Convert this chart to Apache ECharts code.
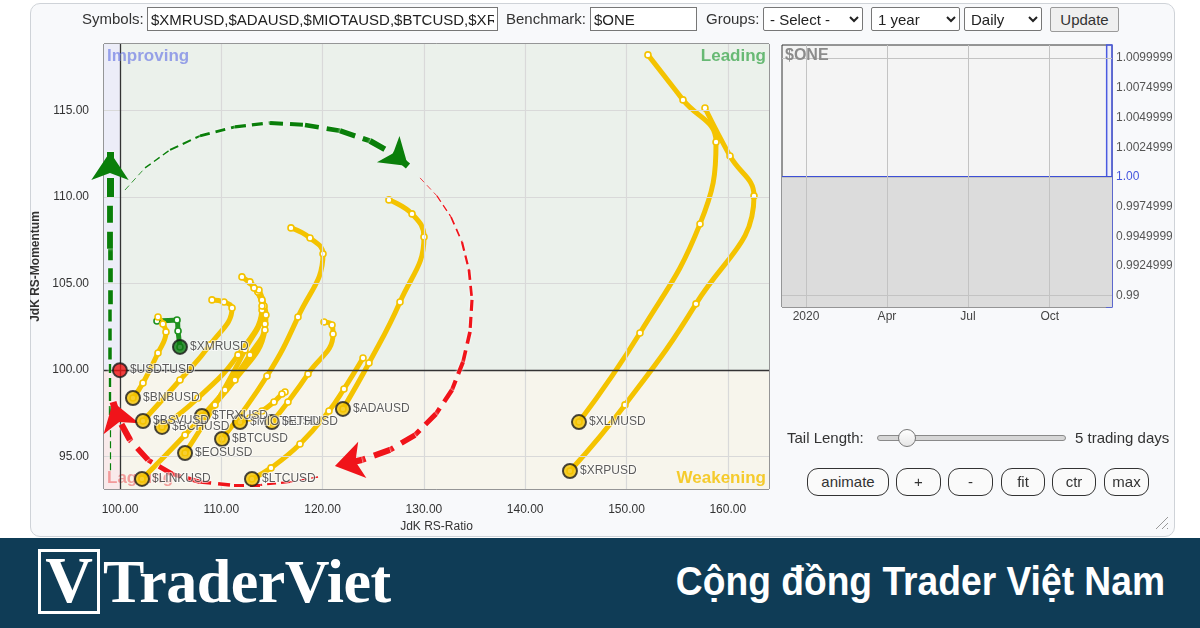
<!DOCTYPE html>
<html><head><meta charset="utf-8">
<script src="https://cdn.jsdelivr.net/npm/echarts@6/dist/echarts.min.js"></script>
<style>
html,body{margin:0;padding:0;width:1200px;height:628px;overflow:hidden;background:#fff;font-family:"Liberation Sans",Arial,sans-serif;color:#333;}
#wrap{position:relative;width:1200px;height:628px;}
#panel{position:absolute;left:30px;top:3px;width:1143px;height:532px;border:1px solid #cfd3d8;border-radius:10px;background:#f8f9fb;}
#chart{position:absolute;left:0;top:0;width:1172px;height:538px;}
.lbl{position:absolute;font-size:15px;line-height:18px;color:#333;white-space:nowrap;}
.inp{position:absolute;border:1px solid #777;background:#fff;font:15px "Liberation Sans",Arial,sans-serif;padding:0 3px;box-sizing:border-box;height:24px;color:#222;}
select.inp{padding:0 2px;border-radius:2px;}
.btn{position:absolute;height:28px;border:1px solid #333;border-radius:11px;background:#fafafa;font:15px "Liberation Sans",Arial,sans-serif;color:#333;text-align:center;line-height:26px;box-sizing:border-box;}
#upd{position:absolute;left:1050px;top:7px;width:69px;height:25px;border:1px solid #9a9a9a;border-radius:2px;background:#efefef;font:15px "Liberation Sans",Arial,sans-serif;color:#333;text-align:center;line-height:23px;box-sizing:border-box;}
#track{position:absolute;left:877px;top:435px;width:189px;height:6px;border:1px solid #8a8a8a;border-radius:4px;background:#d6d6d6;box-sizing:border-box;}
#knob{position:absolute;left:898px;top:429px;width:18px;height:18px;border:1px solid #777;border-radius:50%;background:linear-gradient(#ffffff,#e6e6e6);box-sizing:border-box;}
#grip{position:absolute;left:1154px;top:515px;width:14px;height:14px;background:repeating-linear-gradient(135deg,transparent 0 3px,#999 3px 4px);clip-path:polygon(100% 0,100% 100%,0 100%);}
#banner{position:absolute;left:0;top:538px;width:1200px;height:90px;background:#0f3c56;}
#logobox{position:absolute;left:38px;top:549px;width:62px;height:65px;border:3px solid #fff;box-sizing:border-box;overflow:hidden;}
#logov{position:absolute;left:0;top:-5px;width:56px;text-align:center;font:bold 66px "Liberation Serif",serif;color:#fff;line-height:66px;}
#logot{position:absolute;left:103px;top:546px;font:bold 62px "Liberation Serif",serif;color:#fff;line-height:70px;letter-spacing:-0.5px;}
#slogan{position:absolute;right:35px;top:556px;font:bold 40px "Liberation Sans",Arial,sans-serif;color:#fff;line-height:50px;transform:scaleX(0.93);transform-origin:right center;white-space:nowrap;}
</style></head>
<body><div id="wrap">
<div id="panel"></div>
<div id="chart"></div>
<div class="lbl" style="left:82px;top:10px;">Symbols:</div>
<input class="inp" id="symInput" style="left:147px;top:7px;width:351px;" value="">
<div class="lbl" style="left:506px;top:10px;">Benchmark:</div>
<input class="inp" style="left:590px;top:7px;width:107px;" value="$ONE">
<div class="lbl" style="left:706px;top:10px;">Groups:</div>
<select class="inp" style="left:763px;top:7px;width:100px;"><option>- Select -</option></select>
<select class="inp" style="left:871px;top:7px;width:89px;"><option>1 year</option></select>
<select class="inp" style="left:964px;top:7px;width:78px;"><option>Daily</option></select>
<div id="upd">Update</div>
<div class="lbl" style="left:787px;top:429px;">Tail Length:</div>
<div id="track"></div><div id="knob"></div>
<div class="lbl" style="left:1075px;top:429px;">5 trading days</div>
<div class="btn" style="left:807px;top:468px;width:82px;">animate</div>
<div class="btn" style="left:896px;top:468px;width:45px;">+</div>
<div class="btn" style="left:948px;top:468px;width:45px;">-</div>
<div class="btn" style="left:1001px;top:468px;width:44px;">fit</div>
<div class="btn" style="left:1052px;top:468px;width:44px;">ctr</div>
<div class="btn" style="left:1104px;top:468px;width:45px;">max</div>
<div id="grip"></div>
<div id="banner"></div>
<div id="logobox"><div id="logov">V</div></div>
<div id="logot">TraderViet</div>
<div id="slogan">Cộng đồng Trader Việt Nam</div>
</div>
<script>
// ---------- DATA (JdK RS-Ratio, JdK RS-Momentum), oldest -> latest ----------
const symbols = ['$XMRUSD','$ADAUSD','$MIOTAUSD','$BTCUSD','$XRPUSD','$XLMUSD','$LTCUSD','$ETHUSD','$EOSUSD','$TRXUSD','$BCHUSD','$BSVUSD','$BNBUSD','$LINKUSD','$USDTUSD'];
const XMRUSD   = [[103.65,102.83],[105.63,102.89],[105.73,102.25],[105.92,101.33]];
const ADAUSD   = [[126.55,109.83],[128.83,109.02],[130.01,107.69],[127.64,103.93],[124.58,100.40],[122.01,97.75]];
const MIOTAUSD = [[116.29,98.73],[115.99,98.61],[115.20,98.15],[114.02,97.63],[112.83,97.23],[111.85,96.99]];
const BTCUSD   = [[116.88,108.21],[118.76,107.63],[120.04,106.71],[117.57,103.06],[114.51,99.65],[110.07,96.01]];
const XRPUSD   = [[157.75,115.14],[160.22,112.37],[162.59,110.06],[156.86,103.82],[149.85,97.98],[144.42,94.16]];
const XLMUSD   = [[152.12,118.21],[155.58,115.61],[158.84,113.18],[157.26,108.44],[151.33,102.14],[145.31,96.99]];
const LTCUSD   = [[123.99,100.69],[122.11,98.90],[120.63,97.63],[117.77,95.72],[114.91,94.34],[113.03,93.70]];
const ETHUSD   = [[120.14,102.77],[120.93,102.60],[121.03,102.08],[118.56,99.77],[116.58,98.15],[115.00,96.99]];
const EOSUSD   = [[112.83,105.09],[113.62,104.51],[114.02,103.47],[112.34,101.16],[109.38,97.98],[106.42,95.20]];
const TRXUSD   = [[113.72,104.62],[114.22,103.70],[114.31,102.66],[112.83,100.87],[110.37,98.84],[108.09,97.34]];
const BCHUSD   = [[112.04,105.38],[113.23,104.74],[114.02,103.70],[111.65,100.87],[107.70,98.38],[104.15,96.71]];
const BSVUSD   = [[109.08,104.05],[110.27,103.93],[111.06,103.58],[108.88,101.45],[105.92,99.42],[102.27,97.05]];
const BNBUSD   = [[103.75,103.06],[104.24,102.66],[104.54,102.20],[103.75,100.98],[102.27,99.25],[101.28,98.38]];
const LINKUSD  = [[114.02,104.05],[114.41,103.18],[114.31,102.31],[111.35,99.42],[106.42,96.24],[102.17,93.70]];
const USDTUSD  = [[99.99,99.99]];
const tailData = [XMRUSD,ADAUSD,MIOTAUSD,BTCUSD,XRPUSD,XLMUSD,LTCUSD,ETHUSD,EOSUSD,TRXUSD,BCHUSD,BSVUSD,BNBUSD,LINKUSD,USDTUSD];

const xTicks = [100,110,120,130,140,150,160];
const yTicks = [95,100,105,110,115];

// annotation arrows (drawn over the chart), in RS-Ratio / RS-Momentum units
const greenUpArrow  = [[99.01,94.2],[99.01,97.4],[99.01,100.6],[99.01,103.8],[99.01,107.0],[99.01,110.0],[99.01,112.6]];
const greenArcArrow = [[100.49,110.40],[102.47,111.68],[104.94,112.72],[107.90,113.53],[111.35,114.05],[114.81,114.28],[118.26,114.16],[121.72,113.82],[124.68,113.24],[127.15,112.43],[128.43,111.79]];
const redArcArrow   = [[129.62,111.10],[131.29,110.06],[132.68,108.84],[133.76,107.40],[134.45,105.78],[134.75,104.05],[134.55,102.20],[133.86,100.46],[132.77,98.84],[131.19,97.46],[129.12,96.24],[126.65,95.38],[123.89,94.80],[121.22,94.45]];
const redLowArrow   = [[119.55,93.82],[116.78,93.53],[113.82,93.35],[110.86,93.35],[107.90,93.53],[105.13,93.99],[102.76,94.80],[100.99,95.95],[99.80,97.23],[99.31,98.15]];

// benchmark mini chart ($ONE)
const sideDates  = ['2019-12-05','2020-12-10'];
const sideValues = [1.00, 1.00];
const sideXTickDates  = ['2020-01-01','2020-04-01','2020-07-01','2020-10-01'];
const sideXTickLabels = ['2020','Apr','Jul','Oct'];
const sideYTicks  = [0.99,0.9925,0.995,0.9975,1.00,1.0025,1.005,1.0075,1.01];
const sideYLabels = ['0.99','0.9924999','0.9949999','0.9974999','1.00','1.0024999','1.0049999','1.0074999','1.0099999'];
const sideWindow  = ['2020-12-04','2020-12-10'];

// ---------- CHART ----------
document.getElementById('symInput').value = symbols.join(',');
const FONT = '"Liberation Sans", Arial, sans-serif';
const t = s => Date.parse(s + 'T00:00:00Z');
const X0 = 98.42, X1 = 164.07, Y0 = 93.12, Y1 = 118.84;

function quad(p){
  if (p[0] >= 100 && p[1] >= 100) return {line:'#1f921f', head:'#0b7a12'};
  if (p[0] >= 100 && p[1] < 100)  return {line:'#f4c300', head:'#f4c300'};
  if (p[0] < 100 && p[1] < 100)   return {line:'#e8262a', head:'#ee1111'};
  return {line:'#5566dd', head:'#3344cc'};
}

const series = [];
// quadrant backgrounds
series.push({type:'line', xAxisIndex:0, yAxisIndex:0, z:1, silent:true, symbol:'none', data:[[100,100]], lineStyle:{opacity:0},
  markArea:{silent:true, data:[
    [{coord:[X0,100], itemStyle:{color:'#ecedf8'}},{coord:[100,Y1]}],
    [{coord:[100,100], itemStyle:{color:'#ebf1eb'}},{coord:[X1,Y1]}],
    [{coord:[X0,Y0], itemStyle:{color:'#f9eaea'}},{coord:[100,100]}],
    [{coord:[100,Y0], itemStyle:{color:'#f7f5ec'}},{coord:[X1,100]}]
  ]}});
// grid lines
series.push({type:'line', xAxisIndex:0, yAxisIndex:0, z:2, silent:true, symbol:'none', data:[],
  markLine:{silent:true, symbol:'none', label:{show:false}, lineStyle:{color:'#d9d9d9', width:1.2, type:'solid'},
    data: xTicks.filter(v=>v!==100).map(v=>({xAxis:v})).concat(yTicks.filter(v=>v!==100).map(v=>({yAxis:v})))}});
// quadrant dividers
series.push({type:'line', xAxisIndex:0, yAxisIndex:0, z:3, silent:true, symbol:'none', data:[],
  markLine:{silent:true, symbol:'none', label:{show:false}, lineStyle:{color:'#333', width:1.3, type:'solid'},
    data:[{xAxis:100},{yAxis:100}]}});
// tails
tailData.forEach((pts,i)=>{
  if (pts.length < 2) return;
  const c = quad(pts[pts.length-1]);
  series.push({type:'line', xAxisIndex:0, yAxisIndex:0, z:4, smooth:0.45, silent:true,
    symbol:'circle', symbolSize:6, showAllSymbol:true,
    lineStyle:{color:c.line, width:5, cap:'round', join:'round'},
    itemStyle:{color:'#fff', borderColor:c.line, borderWidth:1.6},
    data: pts});
});
// arrows
function arrow(pts, color, w0, w1, hs){
  const segs = [];
  const n = pts.length - 1;
  for (let i=0;i<n;i++){
    const w = w0 + (w1-w0)*(i/(n-1));
    segs.push({coords:[pts[i],pts[i+1]], lineStyle:{width:w, type:[Math.round(w*2.2+4), Math.round(w*1.0+3)]}});
  }
  const common = {type:'lines', coordinateSystem:'cartesian2d', xAxisIndex:0, yAxisIndex:0, z:5, silent:true, clip:false,
    lineStyle:{color:color, opacity:1, curveness:0, shadowColor:'rgba(255,255,255,0.95)', shadowBlur:3}};
  series.push(Object.assign({}, common, {symbol:'none', data:segs.slice(0,-1)}));
  series.push(Object.assign({}, common, {symbol:['none','arrow'], symbolSize:hs, data:[segs[n-1]]}));
}
arrow(greenUpArrow, '#0a7f0a', 1.2, 7, [22,28]);
arrow(greenArcArrow, '#0a7f0a', 0.8, 6.5, [22,26]);
arrow(redArcArrow, '#f0141a', 0.8, 6.5, [24,28]);
arrow(redLowArrow, '#f0141a', 1.5, 7, [24,28]);
// heads
series.push({type:'scatter', xAxisIndex:0, yAxisIndex:0, z:6, silent:true, symbolSize:14,
  data: tailData.map((pts,i)=>{ const h = pts[pts.length-1]; const c = quad(h);
    return {name:symbols[i], value:h, itemStyle:{color:c.head, borderColor:'#1a1a1a', borderWidth:2}}; }),
  label:{show:true, position:'right', distance:2, formatter:'{b}', fontSize:12, fontFamily:FONT, color:'#333',
    textBorderColor:'rgba(255,255,255,0.75)', textBorderWidth:2}});

// side chart ($ONE)
series.push({type:'line', xAxisIndex:1, yAxisIndex:1, z:2, silent:true, symbol:'none',
  data: sideDates.map((d,i)=>[t(d), sideValues[i]]),
  lineStyle:{color:'#3d4fd6', width:2},
  areaStyle:{color:'#dcdcdc', opacity:1, origin:'start'},
  markArea:{silent:true, itemStyle:{color:'rgba(225,228,255,0.35)', borderColor:'#4a5ae0', borderWidth:1.5},
    data:[[{xAxis:t(sideWindow[0])},{xAxis:t(sideWindow[1])}]]}});
series.push({type:'line', xAxisIndex:1, yAxisIndex:1, z:3, silent:true, symbol:'none', data:[],
  markLine:{silent:true, symbol:'none', label:{show:false}, lineStyle:{color:'#c3c3c3', width:1, type:'solid'},
    data: sideXTickDates.map(d=>({xAxis:t(d)})).concat(sideYTicks.filter(v=>v!==1).map(v=>({yAxis:v})))}});

const option = {
  animation:false,
  backgroundColor:'transparent',
  textStyle:{fontFamily:FONT},
  grid:[
    {left:104, top:44, width:665, height:445, show:true, borderColor:'#333', borderWidth:1, backgroundColor:'transparent', outerBoundsMode:'none', containLabel:false},
    {left:782, top:45, width:330, height:262, show:true, borderColor:'#333', borderWidth:1, backgroundColor:'#f4f4f4', outerBoundsMode:'none', containLabel:false}
  ],
  xAxis:[
    {type:'value', gridIndex:0, min:X0, max:X1, axisLine:{show:false}, axisTick:{show:false}, splitLine:{show:false},
     axisLabel:{customValues:xTicks, formatter:v=>v.toFixed(2), fontSize:12, color:'#333', margin:15},
     name:'JdK RS-Ratio', nameLocation:'middle', nameGap:30, nameTextStyle:{fontSize:12, color:'#333'}},
    {type:'value', gridIndex:1, min:t('2019-12-05'), max:t('2020-12-10'), axisLine:{show:false}, axisTick:{show:false}, splitLine:{show:false},
     axisLabel:{customValues:sideXTickDates.map(t), fontSize:12, color:'#444', margin:4,
       formatter:v=>{ const i = sideXTickDates.map(t).indexOf(v); return i>=0 ? sideXTickLabels[i] : ''; }}}
  ],
  yAxis:[
    {type:'value', gridIndex:0, min:Y0, max:Y1, axisLine:{show:false}, axisTick:{show:false}, splitLine:{show:false},
     axisLabel:{customValues:yTicks, formatter:v=>v.toFixed(2), fontSize:12, color:'#333', margin:15},
     name:'JdK RS-Momentum', nameLocation:'middle', nameGap:56, nameRotate:90, nameTextStyle:{fontSize:12, fontWeight:'bold', color:'#333'}},
    {type:'value', gridIndex:1, position:'right', min:0.98904, max:1.01111, axisLine:{show:false}, axisTick:{show:false}, splitLine:{show:false},
     axisLabel:{customValues:sideYTicks, fontSize:12, color:'#555', margin:4,
       formatter:v=>{ let k=0; sideYTicks.forEach((s,i)=>{ if (Math.abs(s-v)<Math.abs(sideYTicks[k]-v)) k=i; }); return v===1 ? '{b|'+sideYLabels[k]+'}' : sideYLabels[k]; },
       rich:{b:{color:'#4455dd', fontSize:12}}}}
  ],
  graphic:[
    {type:'text', left:107, top:48, z:10, style:{text:'Improving', fill:'rgba(120,132,230,0.75)', font:'bold 17px '+FONT}},
    {type:'text', right:406, top:48, z:10, style:{text:'Leading', fill:'rgba(80,175,95,0.85)', font:'bold 17px '+FONT}},
    {type:'text', right:406, top:470, z:10, style:{text:'Weakening', fill:'rgba(244,195,10,0.85)', font:'bold 17px '+FONT}},
    {type:'text', left:107, top:470, z:3, style:{text:'Lagging', fill:'rgba(240,120,120,0.7)', font:'bold 17px '+FONT}},
    {type:'text', left:785, top:48, z:10, style:{text:'$ONE', fill:'#8c8c8c', font:'bold 16px '+FONT}}
  ],
  series: series
};
const chart = echarts.init(document.getElementById('chart'), null, {renderer:'canvas'});
chart.setOption(option);
</script>
</body></html>
